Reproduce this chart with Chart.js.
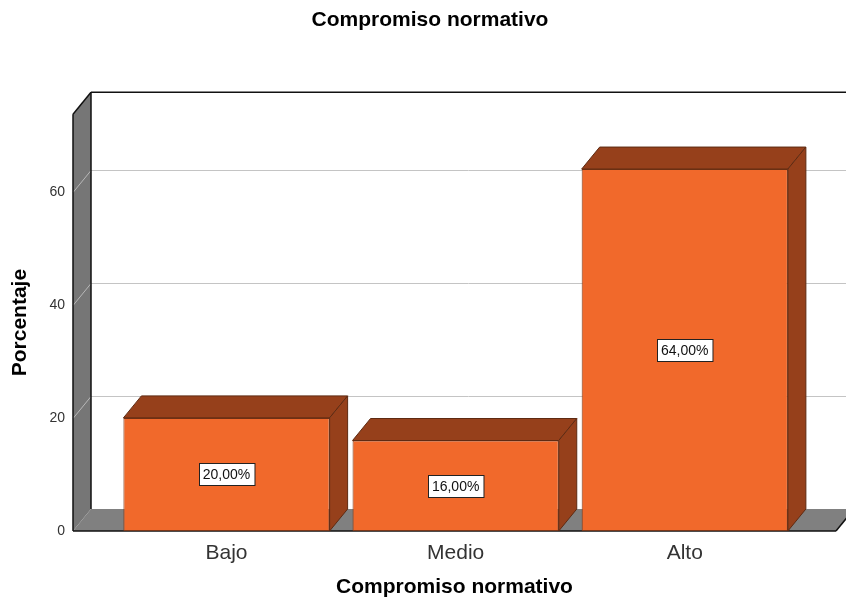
<!DOCTYPE html>
<html>
<head>
<meta charset="utf-8">
<script src="https://cdn.jsdelivr.net/npm/chart.js@4/dist/chart.umd.min.js"></script>
<style>
html, body { margin: 0; padding: 0; background: #fff; }
</style>
</head>
<body>
<canvas id="Chart" width="846" height="607"></canvas>
<script>
var categorias = ['Bajo', 'Medio', 'Alto'];
var porcentajes = [20, 16, 64];
var ticksY = [0, 20, 40, 60];
var titulo = 'Compromiso normativo';
var tituloX = 'Compromiso normativo';
var tituloY = 'Porcentaje';

var fuente = '"Liberation Sans", Arial, sans-serif';
var prof = { dx: 18, dy: -22 };   // profundidad del efecto 3D

function poligono(ctx, pts) {
    ctx.beginPath();
    ctx.moveTo(pts[0][0], pts[0][1]);
    for (var i = 1; i < pts.length; i++) ctx.lineTo(pts[i][0], pts[i][1]);
    ctx.closePath();
}
function linea(ctx, x1, y1, x2, y2) {
    ctx.beginPath();
    ctx.moveTo(x1, y1);
    ctx.lineTo(x2, y2);
    ctx.stroke();
}

var caja3d = {
    id: 'caja3d',
    beforeDatasetsDraw: function(chart) {
        var ctx = chart.ctx, a = chart.chartArea, ys = chart.scales.y;
        var dx = prof.dx, dy = prof.dy, W = chart.width;
        ctx.save();
        // pared izquierda
        ctx.fillStyle = '#767676';
        poligono(ctx, [[a.left, a.top], [a.left + dx, a.top + dy], [a.left + dx, a.bottom + dy], [a.left, a.bottom]]);
        ctx.fill();
        // suelo
        ctx.fillStyle = '#808080';
        poligono(ctx, [[a.left, a.bottom], [a.left + dx, a.bottom + dy], [a.right + dx, a.bottom + dy], [a.right, a.bottom]]);
        ctx.fill();
        // lineas de cuadricula en la pared del fondo
        ctx.lineWidth = 1;
        ticksY.forEach(function(v) {
            if (v === 0) return;
            var y = Math.round(ys.getPixelForValue(v)) + 0.5;
            ctx.strokeStyle = '#c4c4c4';
            linea(ctx, a.left + dx, y + dy, W, y + dy);
            ctx.strokeStyle = '#b8b8b8';
            linea(ctx, a.left, y, a.left + dx, y + dy);
        });
        // bordes
        ctx.strokeStyle = '#111';
        ctx.lineWidth = 1.5;
        linea(ctx, a.left, a.top, a.left, a.bottom);
        linea(ctx, a.left, a.top, a.left + dx, a.top + dy);
        linea(ctx, a.left + dx, a.top + dy, W, a.top + dy);
        linea(ctx, a.left + dx, a.top + dy, a.left + dx, a.bottom + dy);
        linea(ctx, a.left, a.bottom, a.right, a.bottom);
        linea(ctx, a.right, a.bottom, a.right + dx, a.bottom + dy);
        ctx.restore();
    },
    afterDatasetsDraw: function(chart) {
        var ctx = chart.ctx, dx = prof.dx, dy = prof.dy;
        var meta = chart.getDatasetMeta(0);
        ctx.save();
        meta.data.forEach(function(bar, i) {
            var p = bar.getProps(['x', 'y', 'base', 'width'], true);
            var l = p.x - p.width / 2, r = p.x + p.width / 2;
            ctx.fillStyle = '#96401b';
            ctx.strokeStyle = '#5e2a12';
            ctx.lineWidth = 1;
            poligono(ctx, [[l, p.y], [l + dx, p.y + dy], [r + dx, p.y + dy], [r, p.y]]);
            ctx.fill(); ctx.stroke();
            poligono(ctx, [[r, p.y], [r + dx, p.y + dy], [r + dx, p.base + dy], [r, p.base]]);
            ctx.fill(); ctx.stroke();

            // etiqueta de valor
            var txt = porcentajes[i].toFixed(2).replace('.', ',') + '%';
            ctx.font = '14px ' + fuente;
            var w = ctx.measureText(txt).width + 8, h = 22;
            var cy = (p.y + p.base) / 2;
            var bx = Math.round(p.x - w / 2) + 0.5, by = Math.round(cy - h / 2) + 0.5;
            ctx.fillStyle = '#fff';
            ctx.fillRect(bx, by, w, h);
            ctx.strokeStyle = '#222';
            ctx.strokeRect(bx, by, w, h);
            ctx.fillStyle = '#111';
            ctx.textAlign = 'center';
            ctx.textBaseline = 'middle';
            ctx.fillText(txt, p.x, cy + 1);
        });
        ctx.restore();
    }
};

var ctx = document.getElementById('Chart');
var newChart = new Chart(ctx, {
    type: 'bar',
    data: {
        datasets: [{
            data: categorias.map(function(c, i) { return { x: i, y: porcentajes[i] }; }),
            backgroundColor: '#f1692b',
            borderColor: '#7a3516',
            borderWidth: 1,
            borderSkipped: false,
            barPercentage: 0.9,
            categoryPercentage: 1.0
        }]
    },
    options: {
        responsive: false,
        animation: false,
        layout: { padding: { left: 24, right: 10, top: 0, bottom: 0 } },
        plugins: {
            legend: { display: false },
            tooltip: { enabled: false },
            title: {
                display: true,
                text: titulo,
                color: '#000',
                font: { family: fuente, size: 21, weight: 'bold' },
                padding: { top: 8, bottom: 81 }
            }
        },
        scales: {
            x: {
                type: 'linear',
                min: -0.67,
                max: 2.66,
                offset: false,
                grid: { display: false, drawTicks: false, offset: false },
                border: { display: false },
                afterBuildTicks: function(s) {
                    s.ticks = categorias.map(function(c, i) { return { value: i }; });
                },
                afterFit: function(s) { s.height = 76; },
                ticks: {
                    autoSkip: false,
                    maxRotation: 0,
                    padding: 10,
                    color: '#333',
                    font: { family: fuente, size: 21 },
                    callback: function(v) { return categorias[v]; }
                },
                title: {
                    display: true,
                    text: tituloX,
                    color: '#000',
                    font: { family: fuente, size: 21, weight: 'bold' },
                    padding: { top: 0, bottom: 7 }
                }
            },
            y: {
                min: 0,
                max: 73.7,
                grid: { display: false, drawTicks: false },
                border: { display: false },
                afterBuildTicks: function(s) {
                    s.ticks = ticksY.map(function(v) { return { value: v }; });
                },
                afterFit: function(s) { s.width = 49; },
                ticks: {
                    padding: 8,
                    color: '#333',
                    font: { family: fuente, size: 14 }
                },
                title: {
                    display: true,
                    text: tituloY,
                    color: '#000',
                    font: { family: fuente, size: 21, weight: 'bold' },
                    padding: { top: -16.6, bottom: 0 }
                }
            }
        }
    },
    plugins: [caja3d]
});
</script>
</body>
</html>
